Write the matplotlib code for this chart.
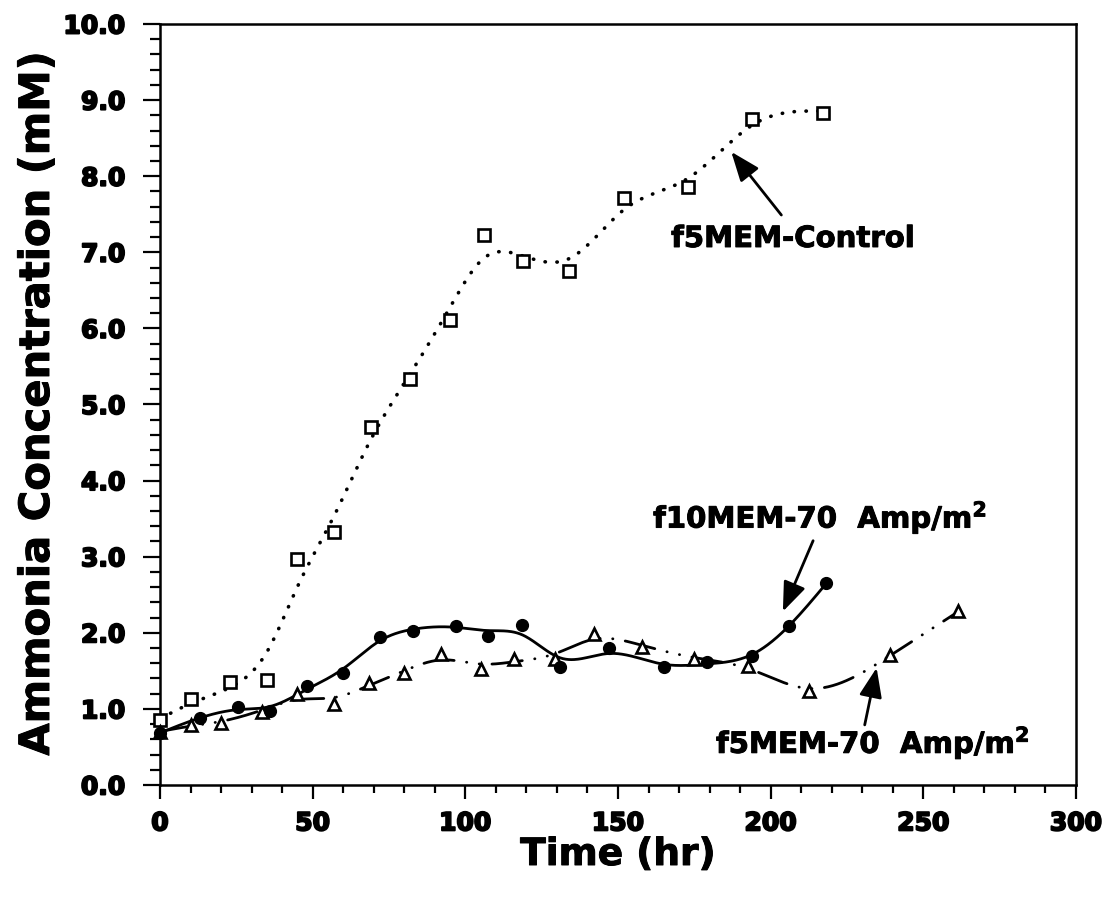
import numpy as np
import matplotlib
matplotlib.use("Agg")
import matplotlib.pyplot as plt
import matplotlib.patheffects as pe
from matplotlib.ticker import MultipleLocator, FormatStrFormatter
from matplotlib.patches import FancyArrowPatch, ArrowStyle

# ---- data: ammonia concentration (mM) vs time (hr) ----
control_t = [0, 10, 23, 35, 45, 57, 69, 82, 95, 106, 119, 134, 152, 173, 194, 217]
control_c = [0.85, 1.13, 1.36, 1.38, 2.97, 3.32, 4.70, 5.34, 6.11, 7.23, 6.88, 6.75,
             7.72, 7.86, 8.75, 8.83]

f10_t = [0, 13, 25.5, 36, 48, 60, 72, 83, 97, 107.5, 118.5, 131, 147, 165, 179, 194, 206, 218]
f10_c = [0.68, 0.88, 1.03, 0.97, 1.30, 1.47, 1.95, 2.03, 2.09, 1.96, 2.10, 1.55, 1.80,
         1.55, 1.62, 1.69, 2.09, 2.65]

f5_t = [0, 10, 20, 33.5, 45, 57, 68.5, 80, 92, 105, 116, 129.5, 142, 158, 175, 192.5,
        212.5, 239, 261.5]
f5_c = [0.70, 0.79, 0.82, 0.96, 1.20, 1.07, 1.34, 1.47, 1.72, 1.52, 1.66, 1.66, 1.99,
        1.81, 1.66, 1.57, 1.23, 1.71, 2.28]

x_ticks = [0, 50, 100, 150, 200, 250, 300]
y_ticks = [0, 1, 2, 3, 4, 5, 6, 7, 8, 9, 10]


def smoothing_spline(x, y, lam, n=700):
    """Penalised least-squares (cubic smoothing spline) fit evaluated on a fine grid."""
    x = np.asarray(x, float)
    y = np.asarray(y, float)
    g = np.linspace(x.min(), x.max(), n)
    h = g[1] - g[0]
    A = np.zeros((len(x), n))
    for k, xv in enumerate(x):
        j = min(int((xv - g[0]) / h), n - 2)
        w = (xv - g[j]) / h
        A[k, j] += 1 - w
        A[k, j + 1] += w
    D = np.zeros((n - 2, n))
    for i in range(n - 2):
        D[i, i:i + 3] = [1, -2, 1]
    D /= h ** 2
    M = A.T @ A + lam * h * (D.T @ D)
    f = np.linalg.solve(M, A.T @ y)
    return g, f


plt.rcParams['font.family'] = ['DejaVu Sans']
plt.rcParams['font.weight'] = 'bold'
plt.rcParams['mathtext.fontset'] = 'dejavusans'
heavy = [pe.withStroke(linewidth=1.4, foreground='black')]
semi = [pe.withStroke(linewidth=0.7, foreground='black')]

fig = plt.figure(figsize=(11.10, 9.01), dpi=100)
ax = fig.add_axes([160 / 1110, 1 - 785 / 901, (1076 - 160) / 1110, (785 - 24) / 901])

# smoothed curves
gx, gy = smoothing_spline(control_t, control_c, 250)
ax.plot(gx, gy, color='black', lw=2.6, linestyle=(0, (0.1, 3.2)),
        dash_capstyle='round', zorder=2)

gx, gy = smoothing_spline(f10_t, f10_c, 110)
ax.plot(gx, gy, color='black', lw=2.0, linestyle='-', zorder=2)

gx, gy = smoothing_spline(f5_t, f5_c, 160)
ax.plot(gx, gy, color='black', lw=2.0, linestyle=(0, (11, 4.5, 0.1, 4.5, 0.1, 4.5)),
        dash_capstyle='round', zorder=2)

# data markers
ax.plot(control_t, control_c, linestyle='none', marker='s', ms=8, mew=1.9,
        mfc='white', mec='black', zorder=4, clip_on=False)
ax.plot(f5_t, f5_c, linestyle='none', marker='^', ms=8.5, mew=1.9,
        mfc='white', mec='black', zorder=4, clip_on=False)
ax.plot(f10_t, f10_c, linestyle='none', marker='o', ms=8.5, mew=1,
        mfc='black', mec='black', zorder=5, clip_on=False)

# axes styling
ax.set_xlim(0, 300)
ax.set_ylim(0, 10)
ax.xaxis.set_major_locator(plt.FixedLocator(x_ticks))
ax.yaxis.set_major_locator(plt.FixedLocator(y_ticks))
ax.xaxis.set_minor_locator(MultipleLocator(10))
ax.yaxis.set_minor_locator(MultipleLocator(0.2))
ax.yaxis.set_major_formatter(FormatStrFormatter('%.1f'))
for s in ax.spines.values():
    s.set_linewidth(1.8)
ax.tick_params(axis='both', which='both', direction='out', top=False, right=False,
               width=1.6, labelsize=18)
ax.tick_params(axis='y', which='major', length=12, pad=13)
ax.tick_params(axis='y', which='minor', length=7)
ax.tick_params(axis='x', which='major', length=10, pad=9)
ax.tick_params(axis='x', which='minor', length=6)
for lab in ax.get_xticklabels() + ax.get_yticklabels():
    lab.set_fontweight('bold')
    lab.set_path_effects(heavy)

fig.text(618 / 1110, 1 - 865 / 901, 'Time (hr)', fontsize=27, fontweight='bold',
         ha='center', va='baseline', path_effects=semi)
fig.text(37 / 1110, 1 - 404 / 901, 'Ammonia Concentration (mM)', fontsize=30,
         fontweight='bold', rotation=90, ha='center', va='center', path_effects=semi)

# annotations
ax.text(167.4, 7.07, 'f5MEM-Control', fontsize=21, fontweight='bold', va='baseline',
        path_effects=semi)
ax.text(161.5, 3.38, r'f10MEM-70  Amp/m$^{\mathbf{2}}$', fontsize=21, fontweight='bold',
        va='baseline', path_effects=semi)
ax.text(182.1, 0.42, r'f5MEM-70  Amp/m$^{\mathbf{2}}$', fontsize=21, fontweight='bold',
        va='baseline', path_effects=semi)

arrow_style = ArrowStyle('-|>', head_length=1.8, head_width=0.7)
for tail, head in [((203.5, 7.49), (187.1, 8.32)),
                   ((213.9, 3.21), (204.0, 2.28)),
                   ((230.8, 0.79), (234.7, 1.54))]:
    ax.add_patch(FancyArrowPatch(tail, head, arrowstyle=arrow_style, mutation_scale=10,
                                 lw=2, color='black', shrinkA=0, shrinkB=0, zorder=6))

fig.savefig('out.png', dpi=100)
